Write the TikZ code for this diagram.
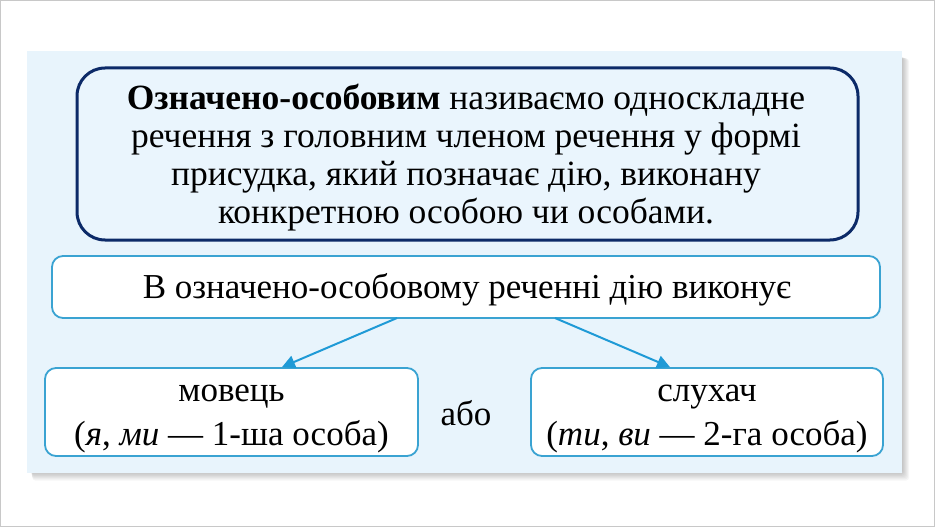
\documentclass[tikz,border=0pt]{standalone}
\usepackage{fontspec}
\setmainfont{Liberation Serif}
\usetikzlibrary{arrows.meta}
\definecolor{panel}{HTML}{E8F4FC}
\definecolor{topfill}{HTML}{EAF5FD}
\definecolor{navy}{HTML}{0C2A68}
\definecolor{cyanb}{HTML}{3AA3D2}
\definecolor{arrowc}{HTML}{1F9AD6}
\definecolor{frame}{HTML}{C8C8C8}
\tikzset{
  topbox/.style={draw=navy, line width=3pt, fill=topfill, rounded corners=28pt},
  midbox/.style={draw=cyanb, line width=1.8pt, fill=white, rounded corners=11pt},
  txt/.style={font=\fontsize{35}{38}\selectfont, align=center, inner sep=0pt},
  txtb/.style={font=\fontsize{35}{44}\selectfont, align=center, inner sep=0pt},
  conn/.style={draw=arrowc, line width=2pt, -{Triangle[length=13pt,width=13pt]}},
  shadowlayer/.style={fill=black, opacity=0.035, rounded corners=3pt}
}
\begin{document}
\begin{tikzpicture}[x=1pt,y=-1pt]
\useasboundingbox (0,0) rectangle (935,527);
\draw[draw=frame, line width=1pt] (0.5,0.5) rectangle (934.5,526.5);
\foreach \i in {0,...,8} {
  \fill[shadowlayer] (30+\i*0.3,56+\i*0.3) rectangle (901+\i,471+\i*1.2);
}
\fill[panel] (27,51) rectangle (902,473);
\draw[topbox] (77,68) rectangle (858,240);
\node[txt, font=\fontsize{35.5}{38}\selectfont] (deftext) at (466,158) {\textbf{Означено-особовим} називаємо односкладне\\речення з головним членом речення у формі\\присудка, який позначає дію, виконану\\конкретною особою чи особами.};
\node[midbox, minimum width=828pt, minimum height=62pt] (mid) at (466,287) {};
\node[txt] (midtext) at (467,290) {В означено-особовому реченні дію виконує};
\node[midbox, minimum width=373pt, minimum height=88pt] (left) at (231.5,412) {};
\node[midbox, minimum width=352pt, minimum height=88pt] (right) at (707,412) {};
\node[txtb] (lefttext) at (231.5,419) {мовець\\(\textit{я}, \textit{ми} — 1-ша особа)};
\node[txtb] (righttext) at (707,419) {слухач\\(\textit{ти}, \textit{ви} — 2-га особа)};
\node[txt] (abo) at (466,413) {або};
\coordinate (ls) at (397,318);
\coordinate (rs) at (555,318);
\draw[conn] (ls) -- (left.north -| 282,0);
\draw[conn] (rs) -- (right.north -| 670,0);
\end{tikzpicture}
\end{document}
